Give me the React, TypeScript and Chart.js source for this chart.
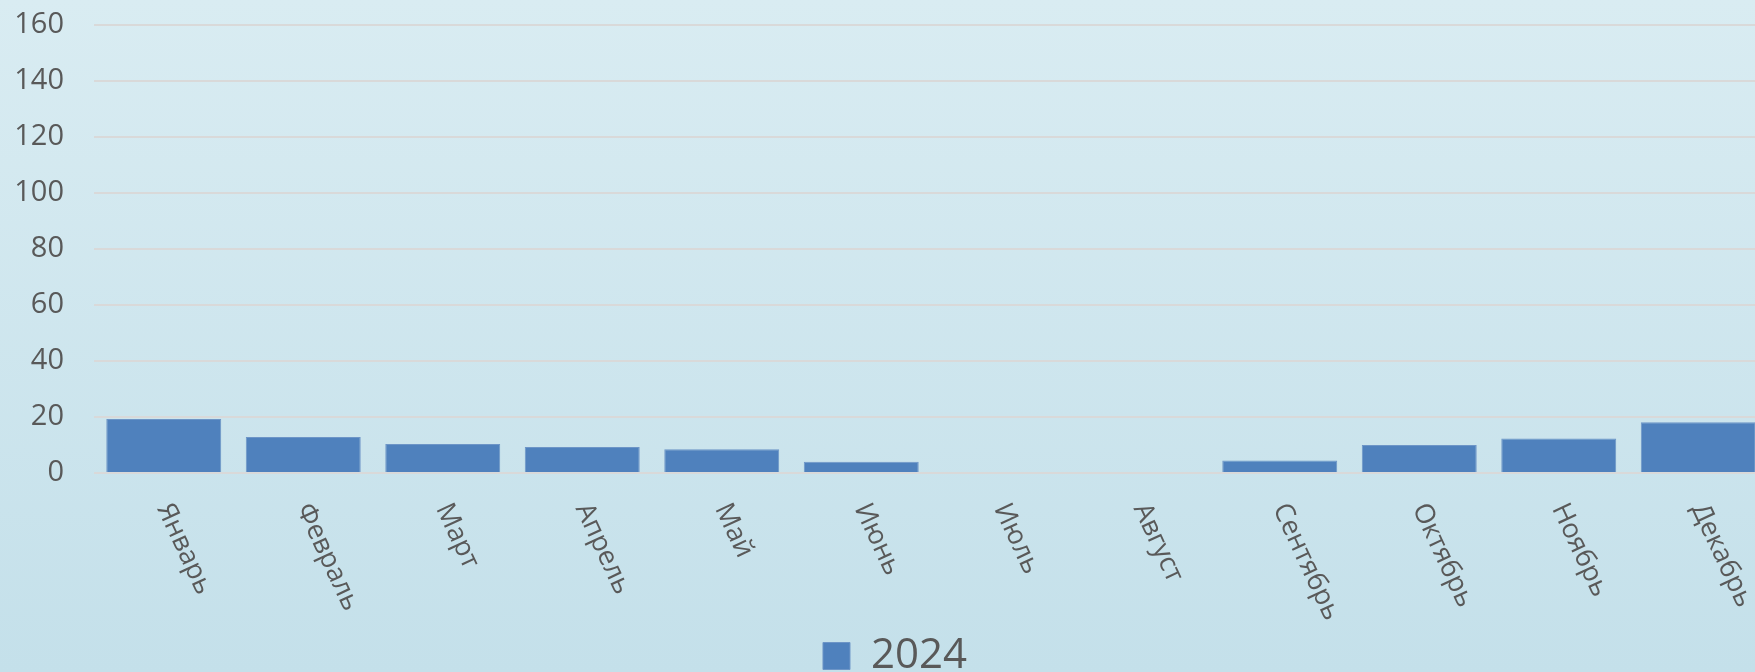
import React, { useEffect, useRef } from "react";
import { Chart, registerables } from "chart.js";

Chart.register(...registerables);

const months = [
  "Январь",
  "Февраль",
  "Март",
  "Апрель",
  "Май",
  "Июнь",
  "Июль",
  "Август",
  "Сентябрь",
  "Октябрь",
  "Ноябрь",
  "Декабрь",
];
const seriesName = "2024";
const values2024 = [19.3, 12.9, 10.4, 9.3, 8.5, 4.0, 0, 0, 4.5, 10.0, 12.3, 18.1];
const yTicks = { min: 0, max: 160, step: 20 };

const FONT = "'Open Sans', 'Noto Sans', sans-serif";
const TEXT = "#595959";

const bgPlugin = {
  id: "bgGradient",
  beforeDraw(chart: any) {
    const { ctx, width, height } = chart;
    const g = ctx.createLinearGradient(0, 0, 0, 672);
    g.addColorStop(0, "#d9ecf2");
    g.addColorStop(1, "#c4e0ea");
    ctx.save();
    ctx.fillStyle = g;
    ctx.fillRect(0, 0, width, height);
    ctx.restore();
  },
};

const rotatedLabels = {
  id: "rotatedLabels",
  afterDraw(chart: any) {
    const { ctx, chartArea } = chart;
    const xs = chart.scales.x;
    const labels = chart.data.labels as string[];
    ctx.save();
    ctx.fillStyle = TEXT;
    ctx.font = `27px ${FONT}`;
    ctx.textAlign = "left";
    ctx.textBaseline = "middle";
    labels.forEach((lab, i) => {
      const x = xs.getPixelForValue(i);
      const y = chartArea.bottom + 32;
      ctx.save();
      ctx.translate(x, y);
      ctx.rotate((65 * Math.PI) / 180);
      ctx.fillText(lab, 0, 0);
      ctx.restore();
    });
    ctx.restore();
  },
};

export default function App() {
  const ref = useRef<HTMLCanvasElement | null>(null);

  useEffect(() => {
    if (!ref.current) return;
    const chart = new Chart(ref.current, {
      type: "bar",
      data: {
        labels: months,
        datasets: [
          {
            label: seriesName,
            data: values2024,
            backgroundColor: "#4f81bd",
            borderColor: "#6d95c7",
            borderWidth: 1,
            barPercentage: 1,
            categoryPercentage: 0.824,
          },
        ],
      },
      options: {
        animation: false,
        responsive: false,
        devicePixelRatio: 1,
        layout: { padding: { top: 25, right: 0, bottom: 3, left: 0 } },
        plugins: {
          tooltip: { enabled: false },
          legend: {
            position: "bottom",
            labels: {
              boxWidth: 27,
              boxHeight: 27,
              padding: 10,
              color: TEXT,
              font: { family: FONT, size: 42 },
            },
          },
        },
        scales: {
          x: {
            grid: { display: false },
            border: { display: false },
            ticks: { display: false },
            afterFit: (s: any) => {
              s.height = 152;
            },
          },
          y: {
            min: yTicks.min,
            max: yTicks.max,
            grid: { color: "#d9d9d9", lineWidth: 2, drawTicks: false },
            border: { display: false },
            ticks: {
              stepSize: yTicks.step,
              padding: 30,
              color: TEXT,
              font: { family: FONT, size: 29 },
            },
            afterFit: (s: any) => {
              s.width = 94;
              s.paddingTop = 0;
              s.paddingBottom = 0;
            },
          },
          yRightSpace: {
            position: "right",
            grid: { display: false },
            border: { display: false },
            ticks: { display: false },
            afterFit: (s: any) => {
              s.width = 22;
              s.paddingTop = 0;
              s.paddingBottom = 0;
            },
          },
        },
      },
      plugins: [bgPlugin, rotatedLabels],
    });
    return () => chart.destroy();
  }, []);

  return (
    <div
      style={{
        position: "fixed",
        left: 0,
        top: 0,
        width: 1755,
        height: 672,
        overflow: "hidden",
      }}
    >
      <canvas ref={ref} width={1790} height={690} style={{ display: "block" }} />
    </div>
  );
}
